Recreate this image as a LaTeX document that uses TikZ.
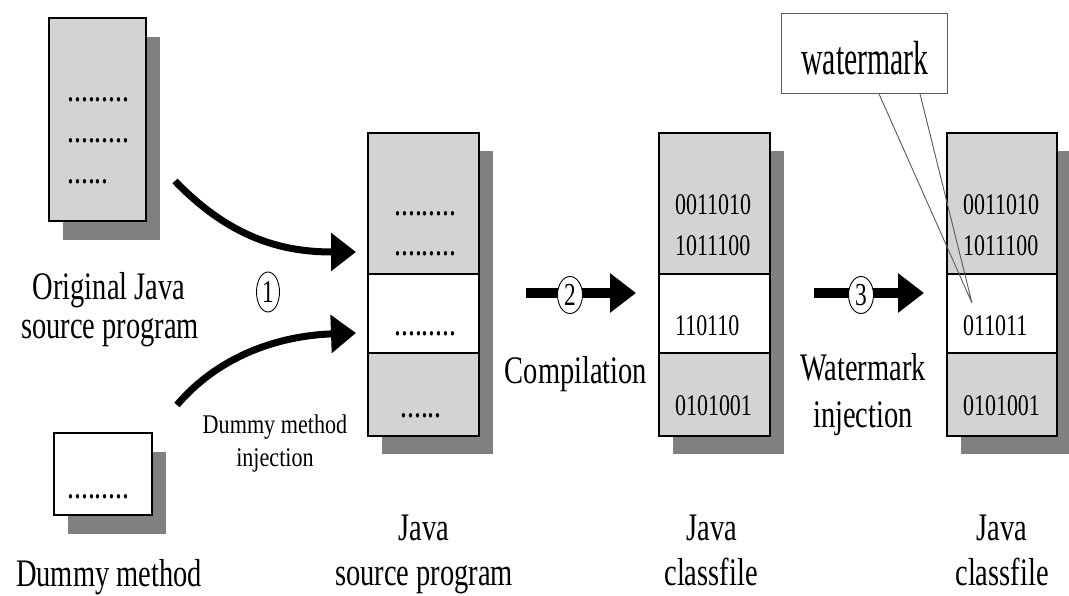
\documentclass[tikz,border=0pt]{standalone}
\usepackage{fontspec}
\setmainfont{Liberation Serif}[FakeStretch=0.73]
\newfontfamily\smallfam{Liberation Serif}[FakeStretch=0.82]
\newfontfamily\wmfam{Liberation Serif}[FakeStretch=0.62]
\usetikzlibrary{arrows.meta,shapes.geometric,calc}
\definecolor{boxgray}{RGB}{211,211,211}
\definecolor{shadowgray}{RGB}{128,128,128}
\definecolor{calloutgray}{RGB}{90,90,90}
\begin{document}
\begin{tikzpicture}[x=1pt,y=-1pt,
  sec/.style={draw=black, line width=1.4pt, fill=boxgray, inner sep=0pt, outer sep=0pt, anchor=north west},
  wsec/.style={sec, fill=white},
  shade/.style={fill=shadowgray, draw=none, inner sep=0pt, outer sep=0pt, anchor=north west},
  dots/.style={font=\fontsize{38}{38}\selectfont, inner sep=0pt, anchor=base west},
  bin/.style={font=\fontsize{30}{30}\selectfont, inner sep=0pt, anchor=base west},
  lab/.style={font=\fontsize{39}{39}\selectfont, inner sep=0pt, anchor=base},
  smalllab/.style={font=\smallfam\fontsize{27}{27}\selectfont, inner sep=0pt, anchor=base},
  num/.style={ellipse, draw=black, line width=0.9pt, minimum width=25pt, minimum height=37pt, inner sep=0pt, font=\fontsize{32}{32}\selectfont},
  bigarrow/.style={line width=10pt, -{Triangle[length=26pt,width=38pt]}},
  curvearrow/.style={line width=7pt, -{Triangle[length=25pt,width=37pt]}},
  pointer/.style={draw=calloutgray, line width=0.9pt}
]
\useasboundingbox (0,0) rectangle (1069,596);

% shadows
\node[shade, minimum width=97pt, minimum height=203pt] (origS) at (63,37) {};
\node[shade, minimum width=98pt, minimum height=82pt] (dumS) at (68,452) {};
\node[shade, minimum width=111pt, minimum height=303pt] (srcS) at (382,151) {};
\node[shade, minimum width=111pt, minimum height=303pt] (clsS) at (673,151) {};
\node[shade, minimum width=111pt, minimum height=303pt] (wclsS) at (961,151) {};

% original Java source program
\node[sec, minimum width=97pt, minimum height=203pt] (orig) at (49,18) {};
\node[dots] (o1) at (67,102) {.........};
\node[dots] (o2) at (67,143) {.........};
\node[dots] (o3) at (67,184) {......};
\node[lab, text depth=0pt] (origL1) at (109,299) {Original Java};
\node[lab] (origL2) at (110,338) {source program};

% dummy method
\node[wsec, minimum width=98pt, minimum height=82pt] (dum) at (54,433) {};
\node[dots] (d1) at (67,498) {.........};
\node[lab] (dumL) at (109,586) {Dummy method};

% Java source program
\node[sec, minimum width=111pt, minimum height=141pt] (src1) at (368,133) {};
\node[wsec, minimum width=111pt, minimum height=79pt] (src2) at (368,274) {};
\node[sec, minimum width=111pt, minimum height=83pt] (src3) at (368,353) {};
\node[dots] (s1) at (394,216) {.........};
\node[dots] (s2) at (394,256) {.........};
\node[dots] (s3) at (394,335) {.........};
\node[dots] (s4) at (400,417) {......};
\node[lab] (srcL1) at (424,540) {Java};
\node[lab] (srcL2) at (424,585) {source program};

% Java classfile
\node[sec, minimum width=111pt, minimum height=141pt] (cls1) at (659,133) {};
\node[wsec, minimum width=111pt, minimum height=79pt] (cls2) at (659,274) {};
\node[sec, minimum width=111pt, minimum height=83pt] (cls3) at (659,353) {};
\node[bin] (c1) at (675,215) {0011010};
\node[bin] (c2) at (675,256) {1011100};
\node[bin] (c3) at (675,335) {110110};
\node[bin] (c4) at (675,415) {0101001};
\node[lab] (clsL1) at (712,540) {Java};
\node[lab] (clsL2) at (711,585) {classfile};

% watermarked Java classfile
\node[sec, minimum width=110pt, minimum height=141pt] (wcls1) at (947,133) {};
\node[wsec, minimum width=110pt, minimum height=79pt] (wcls2) at (947,274) {};
\node[sec, minimum width=110pt, minimum height=83pt] (wcls3) at (947,353) {};
\node[bin] (w1) at (963,215) {0011010};
\node[bin] (w2) at (963,256) {1011100};
\node[bin] (w3) at (963,335) {011011};
\node[bin] (w4) at (963,415) {0101001};
\node[lab] (wclsL1) at (1002,540) {Java};
\node[lab] (wclsL2) at (1002,585) {classfile};

% step 1: curved arrows
\coordinate (a1s) at (175,181);
\coordinate (a1e) at (356,252);
\coordinate (a1bs) at (177,405);
\coordinate (a1be) at (356,333);
\draw[curvearrow] (a1s) .. controls (232,240) and (285,252) .. (a1e);
\draw[curvearrow] (a1bs) .. controls (215,360) and (272,336) .. (a1be);
\node[num, minimum width=23pt, minimum height=40pt] (n1) at (268,292) {1};
\node[smalllab] (injL1) at (275,433) {Dummy method};
\node[smalllab] (injL2) at (275,466) {injection};

% step 2
\coordinate (a2s) at (526,293);
\coordinate (a2e) at (636,293);
\draw[bigarrow] (a2s) -- (a2e);
\node[num, fill=white] (n2) at (570,295) {2};
\node[lab] (compL) at (576,383) {Compilation};

% step 3
\coordinate (a3s) at (814,293);
\coordinate (a3e) at (924,293);
\draw[bigarrow] (a3s) -- (a3e);
\node[num, fill=white] (n3) at (861,295) {3};
\node[lab] (wmL1) at (863,380) {Watermark};
\node[lab] (wmL2) at (863,427) {injection};

% watermark callout
\node[draw=calloutgray, line width=0.9pt, fill=white, minimum width=166pt, minimum height=80pt, inner sep=0pt, anchor=north west] (wm) at (781,13) {};
\node[font=\wmfam\fontsize{48}{48}\selectfont, inner sep=0pt, anchor=base] (wmT) at (865,75) {watermark};
\coordinate (wmtip) at (972,303);
\draw[pointer] ($(wm.south west)+(98,0)$) -- (wmtip) -- ($(wm.south west)+(139,0)$);
\end{tikzpicture}
\end{document}
